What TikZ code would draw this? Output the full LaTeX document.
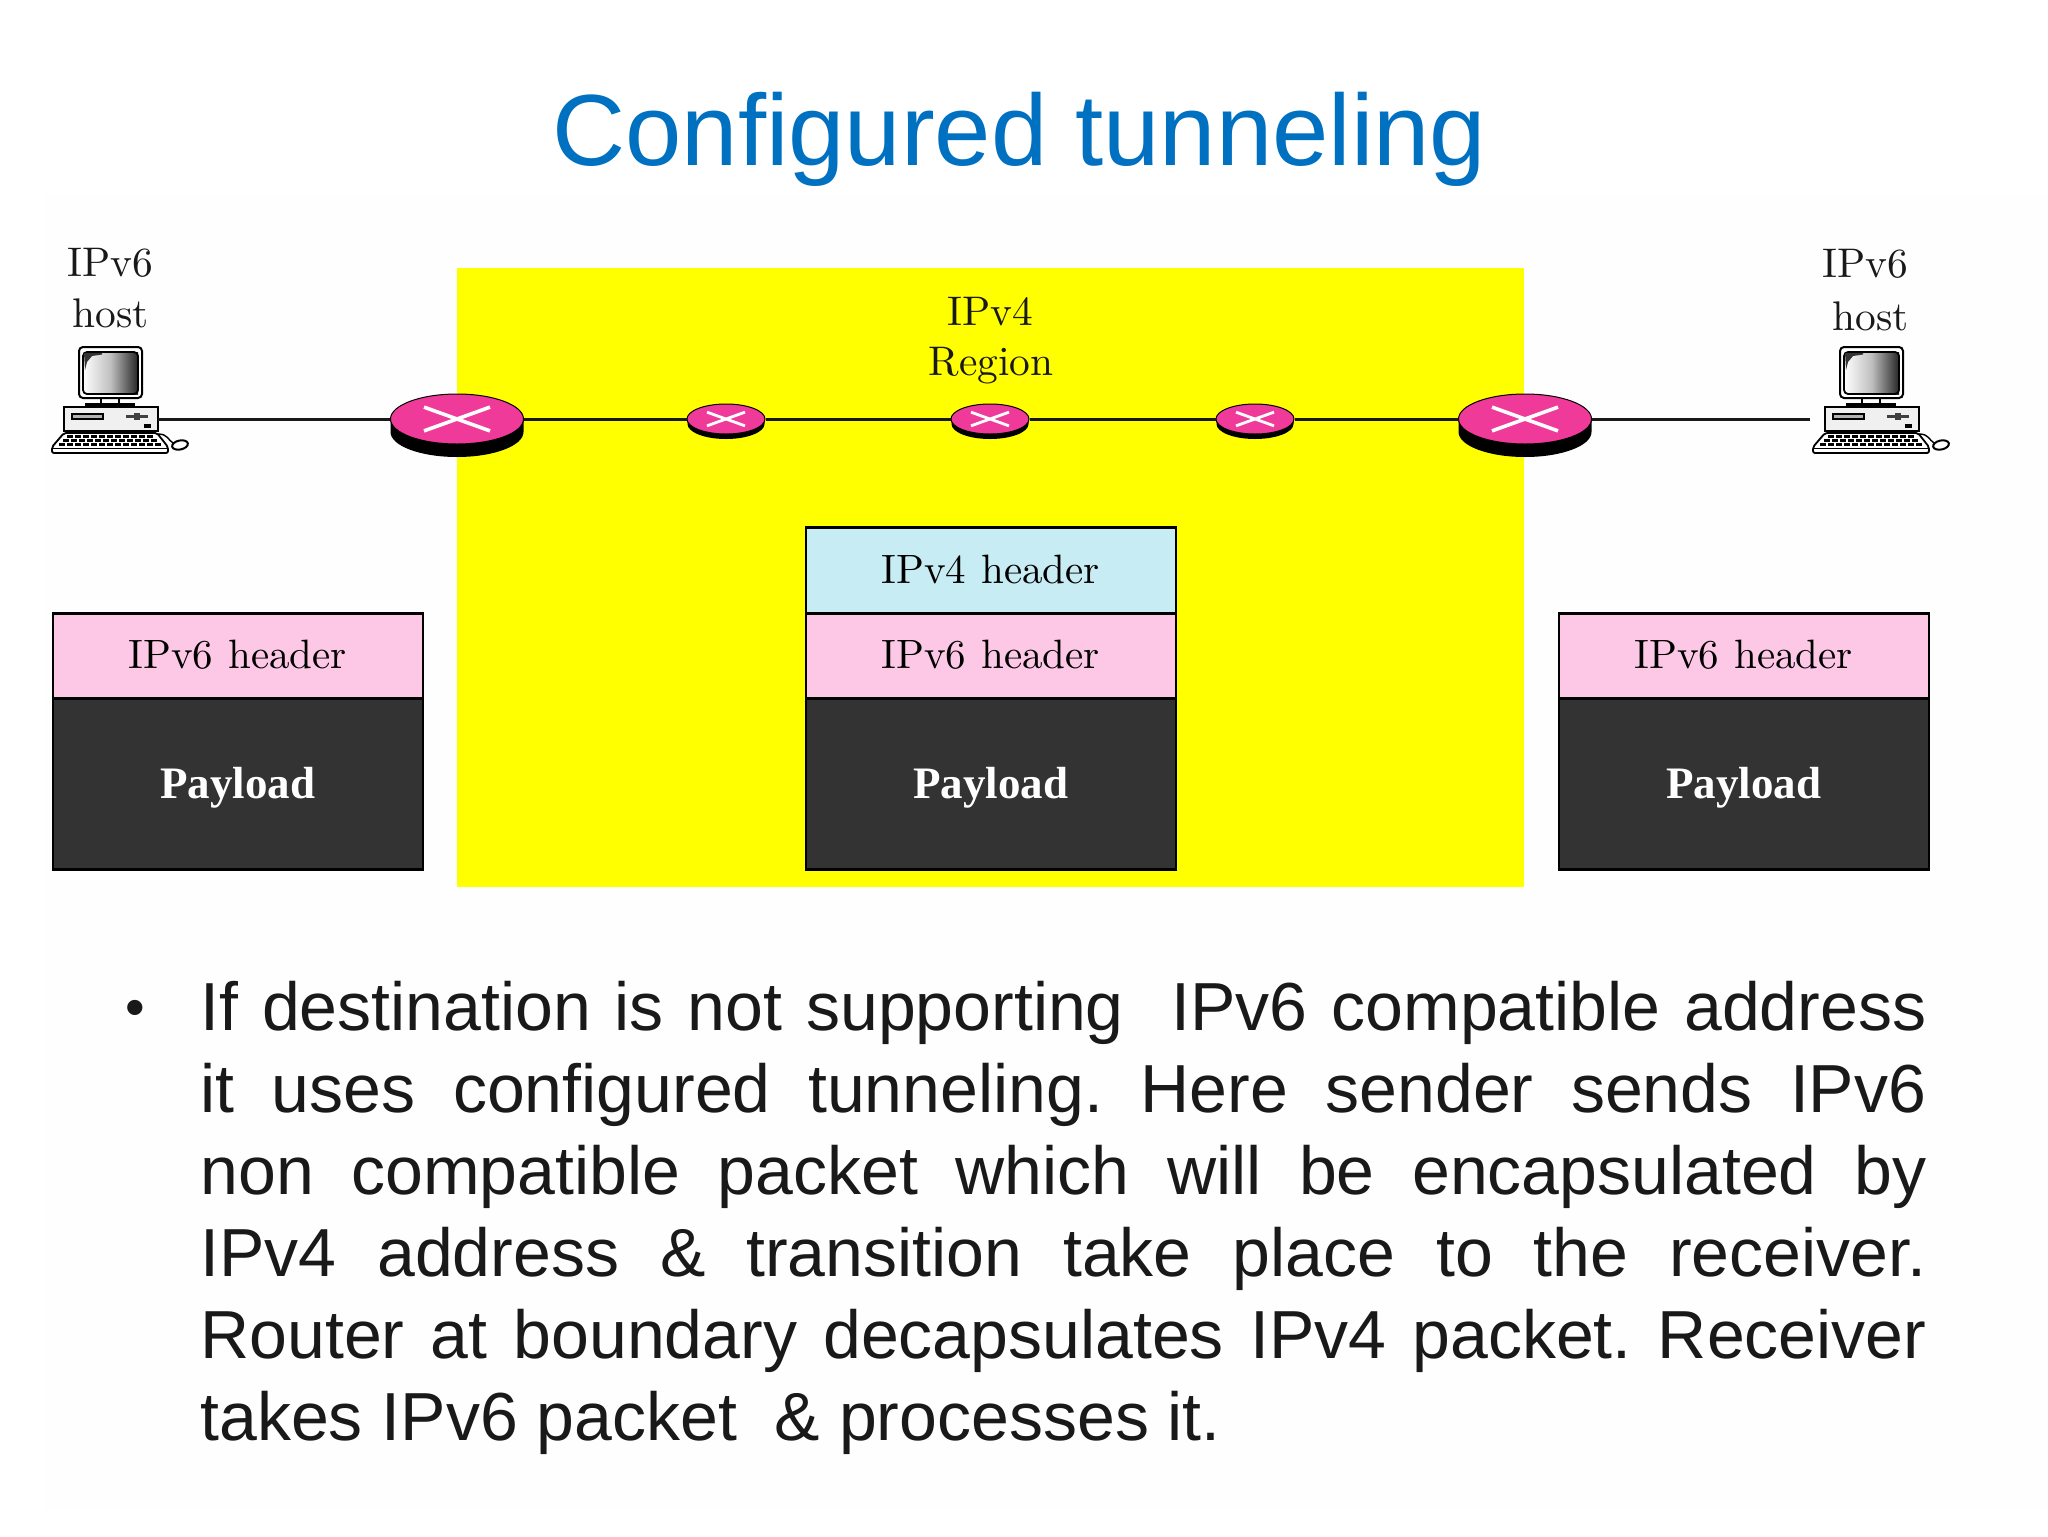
\documentclass[tikz,border=0pt]{standalone}
\usepackage{fontspec}
\setmainfont{Liberation Sans}
\newfontfamily\lmr{lmroman10-regular}[Extension=.otf]
\newfontfamily\tms{Liberation Serif}
\usetikzlibrary{shapes.geometric}
\definecolor{titleblue}{HTML}{0070C0}
\definecolor{rpink}{HTML}{F03A9A}
\definecolor{hblue}{HTML}{C8ECF3}
\definecolor{hpink}{HTML}{FCC8E6}
\definecolor{pdark}{HTML}{333333}
\definecolor{fade}{HTML}{FEFEFE}
\definecolor{regionyellow}{HTML}{FFFF00}
\newcommand{\hdr}[1]{{\lmr\fontsize{20.5}{24}\selectfont #1\hspace{.7pt} header}}
\tikzset{
  x=0.5pt,y=-0.5pt,
  lbl/.style={font=\lmr\fontsize{20.7}{24}\selectfont,inner sep=0pt,anchor=base,text=black!90},
  pbox/.style={draw=black,line width=1.3pt,inner sep=0pt,minimum width=185pt,anchor=north west,text height=13pt,text depth=0pt},
  hblue box/.style={pbox,fill=hblue,minimum height=43pt},
  hpink box/.style={pbox,fill=hpink,minimum height=42.5pt},
  pay box/.style={pbox,fill=pdark,text=white,minimum height=85.5pt,text height=15pt,font=\tms\bfseries\fontsize{22.5}{26}\selectfont},
  bigrouter/.style={ellipse,fill=rpink,draw=black,line width=.5pt,minimum width=66.5pt,minimum height=25pt,inner sep=0pt},
  smallrouter/.style={ellipse,fill=rpink,draw=black,line width=.5pt,minimum width=39pt,minimum height=15pt,inner sep=0pt},
  link/.style={draw=black!90,line width=1.5pt},
  pics/computer/.style={code={
    % monitor
    \draw[line width=1pt,rounded corners=2pt,fill=white] (79,347) rectangle (142,398);
    \shade[left color=white,right color=black!85,middle color=black!25] (83,352) rectangle (138,394);
    \draw[line width=.9pt,rounded corners=2pt] (83,352) rectangle (138,394);
    \fill[black!80] (84,353) -- (102,353) -- (102,354.5) -- (92,356) -- (87,362) -- (85,370) -- cycle;
    % stand
    \draw[line width=.7pt] (101,398) -- (101,403) (119,398) -- (119,403);
    \fill[black] (85,403) rectangle (135,408);
    % base unit
    \draw[line width=1pt,fill=black!6] (63.5,407) rectangle (157.5,431);
    \draw[line width=.6pt,fill=black!30] (72,414) rectangle (103,419);
    \fill[black!75] (126,415) rectangle (148,417.5);
    \fill[black!75] (134,412.5) rectangle (140,420);
    \fill[black] (144,424) rectangle (151,428);
    % keyboard
    \draw[line width=.9pt,fill=white,rounded corners=1pt] (52,447) -- (64,433) -- (157,433) -- (168,447) -- (168,453) -- (52,453) -- cycle;
    \draw[line width=1.2pt,dash pattern=on 3pt off 1pt] (67,436.5) -- (154,436.5);
    \draw[line width=1.2pt,dash pattern=on 3pt off 1pt] (63,440.5) -- (158,440.5);
    \draw[line width=1.2pt,dash pattern=on 3pt off 1pt] (59,444.5) -- (162,444.5);
    \draw[line width=.8pt] (53,448.5) -- (167,448.5);
    % mouse
    \draw[line width=.7pt] (158,434) .. controls (168,434) and (168,440) .. (173,443);
    \draw[line width=1pt,fill=white,rotate around={12:(180,445)}] (180,445) ellipse [x radius=8,y radius=4.5];
  }},
}
\newcommand{\routerdepth}[5]{%
  \fill[black] (#1-#3,#2) -- (#1-#3,#2+#5) arc[start angle=180,end angle=360,x radius=#3,y radius=-#4] -- (#1+#3,#2) -- cycle;}
\newcommand{\routercross}[4]{%
  \draw[white,line width=#4pt] (#1-#3,#2-#3*.36) -- (#1+#3,#2+#3*.36) (#1-#3,#2+#3*.36) -- (#1+#3,#2-#3*.36);}
\begin{document}
\begin{tikzpicture}
\useasboundingbox (0,0) rectangle (2048,1536);
\fill[white] (0,0) rectangle (2048,1536);
\fill[fade] (45,195) rectangle (2048,1510);
\fill[regionyellow] (457,268) rectangle (1524,887);

\node[inner sep=0pt,anchor=base,text=titleblue,font=\fontsize{50.6}{60}\selectfont] (title) at (1019.5,165) {Configured tunneling};

% host labels
\node[lbl] (ll1) at (110,276) {IPv6};
\node[lbl] (ll2) at (111,327) {host};
\node[lbl] (rl1) at (1865,277) {IPv6};
\node[lbl] (rl2) at (1871,330) {host};
\node[lbl] (reg1) at (990,325) {IPv4};
\node[lbl] (reg2) at (991,375) {Region};

% hosts
\pic at (0,0) {computer};
\pic at (1761,0) {computer};
\coordinate (h1) at (158,419);
\coordinate (h2) at (1810,419);

% routers
\routerdepth{457}{419}{66.5}{25}{13}
\routerdepth{1525}{419}{66.5}{25}{13}
\routerdepth{726}{419}{38.5}{15}{5}
\routerdepth{990}{419}{38.5}{15}{5}
\routerdepth{1255}{419}{38.5}{15}{5}
\node[bigrouter] (r1) at (457,419) {};
\node[bigrouter] (r2) at (1525,419) {};
\node[smallrouter] (s1) at (726,419) {};
\node[smallrouter] (s2) at (990,419) {};
\node[smallrouter] (s3) at (1255,419) {};
\routercross{457}{419}{33}{1.8}
\routercross{1525}{419}{33}{1.8}
\routercross{726}{419}{19}{1.4}
\routercross{990}{419}{19}{1.4}
\routercross{1255}{419}{19}{1.4}

\draw[link] (h1) -- (r1);
\draw[link] (r1) -- (s1);
\draw[link] (s1) -- (s2);
\draw[link] (s2) -- (s3);
\draw[link] (s3) -- (r2);
\draw[link] (r2) -- (h2);

% packets
\node[hpink box] (a6) at (51.5,612) {\hdr{IPv6}};
\node[pay box] (ap) at (51.5,697) {Payload};
\node[hblue box] (b4) at (804.5,526) {\hdr{IPv4}};
\node[hpink box] (b6) at (804.5,612) {\hdr{IPv6}};
\node[pay box] (bp) at (804.5,697) {Payload};
\node[hpink box] (c6) at (1557.5,612) {\hdr{IPv6}};
\node[pay box] (cp) at (1557.5,697) {Payload};

% body
\node[inner sep=0pt,anchor=base,font=\fontsize{28}{34}\selectfont,text=black!90] (bul) at (135,1026) {•};
\node[inner sep=0pt,anchor=north west,text width=863pt,align=justify,font=\fontsize{34}{41}\selectfont\frenchspacing,text=black!90] (body) at (200,981)
{If destination is not supporting \ IPv6 compatible address\linebreak
it uses configured tunneling. Here sender sends IPv6\linebreak
non compatible packet which will be encapsulated by\linebreak
IPv4 address \& transition take place to the receiver.\linebreak
Router at boundary decapsulates IPv4 packet. Receiver\linebreak
takes IPv6 packet \ \& processes it.};
\end{tikzpicture}
\end{document}
